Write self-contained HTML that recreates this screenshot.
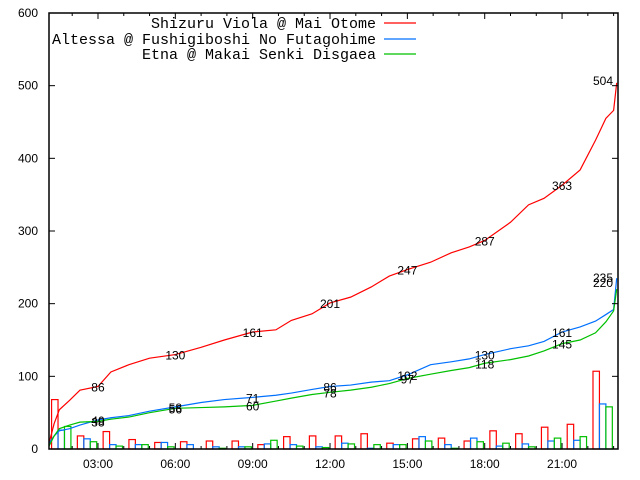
<!DOCTYPE html>
<html><head><meta charset="utf-8"><style>
body{margin:0;background:#fff}
svg{display:block}
text{font-family:"Liberation Sans",sans-serif;font-size:12px;fill:#000}
.leg{font-family:"Liberation Mono",monospace;font-size:15px}
</style></head><body>
<svg id="chart" width="640" height="480" viewBox="0 0 640 480"></svg>
<script>
const seriesNames=["Shizuru Viola @ Mai Otome","Altessa @ Fushigiboshi No Futagohime","Etna @ Makai Senki Disgaea"];
const colors=["#ff0000","#0070ff","#00c000"];
const yTicks=[0,100,200,300,400,500,600];
const xTickHours=[3,6,9,12,15,18,21];
const xTickLabels=["03:00","06:00","09:00","12:00","15:00","18:00","21:00"];
const barHours=[1,2,3,4,5,6,7,8,9,10,11,12,13,14,15,16,17,18,19,20,21,22];
const barsRed=[68,18,24,13,9,10,11,11,6,17,18,18,21,8,14,15,11,25,21,30,34,107];
const barsBlue=[26,14,6,6,9,6,3,3,7,6,3,8,1,6,17,6,15,4,7,11,12,62];
const barsGreen=[31,10,4,6,3,0,1,3,12,4,2,7,6,6,11,1,10,8,3,15,17,58];
const lineHours=[1.1,1.3,1.5,1.9,2.3,3.0,3.5,4.2,5.0,6.0,7.0,7.9,9.0,9.9,10.5,11.3,12.0,12.8,13.6,14.3,15.0,15.9,16.7,17.4,18.0,19.0,19.7,20.3,21.0,21.7,22.3,22.7,23.0,23.12];
const lineRed=[8,35,54,67,81,86,106,116,125,130,140,150,161,164,177,186,201,209,223,238,247,257,270,278,287,312,336,345,363,384,425,455,466,504];
const lineBlue=[8,18,25,28,33,40,43,46,52,58,64,68,71,74,77,82,86,88,92,94,102,116,120,124,130,138,142,148,161,168,176,185,192,235];
const lineGreen=[4,18,28,33,37,38,41,44,50,56,57,58,60,66,70,75,78,81,85,90,97,103,108,112,118,123,128,135,145,150,160,175,190,220];
const labelHours=[3,6,9,12,15,18,21];
const labelsRed=[86,130,161,201,247,287,363];
const labelsBlue=[40,58,71,86,102,130,161];
const labelsGreen=[38,56,60,78,97,118,145];
const finalVals=[504,235,220];

const L=49,R=618,T=13,B=449,H0=1.1,H1=23.17,YMAX=600;
const X=h=>L+(h-H0)/(H1-H0)*(R-L);
const Y=v=>B-v/YMAX*(B-T);
const svg=document.getElementById('chart');
const NS='http://www.w3.org/2000/svg';
function mk(tag,attrs,parent){const e=document.createElementNS(NS,tag);for(const k in attrs)e.setAttribute(k,attrs[k]);(parent||svg).appendChild(e);return e;}

const barSets=[barsRed,barsBlue,barsGreen];
barSets.forEach((arr,s)=>{
  arr.forEach((v,i)=>{
    const h=barHours[i];
    const x0=X(h+0.2+s*0.25),x1=X(h+0.45+s*0.25);
    const r=mk('rect',{x:x0,y:Y(v),width:x1-x0,height:B-Y(v),fill:'none',stroke:colors[s],'stroke-width':1.2});
    
    
  });
});
const lineSets=[lineRed,lineBlue,lineGreen];
lineSets.forEach((arr,s)=>{
  let d='M'+X(lineHours[0])+','+Y(arr[0]);
  for(let i=1;i<arr.length;i++){d+=' L'+X(lineHours[i])+','+Y(arr[i]);}
  const p=mk('path',{d:d,fill:'none',stroke:colors[s],'stroke-width':1.2});
  
  
});
const labSets=[labelsRed,labelsBlue,labelsGreen];
labSets.forEach((arr,s)=>{
  arr.forEach((v,i)=>{
    const t=mk('text',{x:X(labelHours[i]),y:Y(v)+5,'text-anchor':'middle'});
    t.textContent=v;
    
    
  });
});
finalVals.forEach((v,s)=>{
  const t=mk('text',{x:613,y:Y(v)+(s==0?2:(s==1?4:-2)),'text-anchor':'end'});
  t.textContent=v;
  
  
});
const box=mk('rect',{x:L,y:T,width:R-L,height:B-T,fill:'none',stroke:'#000','stroke-width':1.5});


yTicks.forEach(v=>{
  mk('line',{x1:L,x2:L+6,y1:Y(v),y2:Y(v),stroke:'#000'});
  mk('line',{x1:R-6,x2:R,y1:Y(v),y2:Y(v),stroke:'#000'});
  const t=mk('text',{x:L-11,y:Y(v)+4,'text-anchor':'end'});
  t.textContent=v;
  
  
});
for(let h=2;h<=23;h++){
  const major=h%3==0;const len=major?6:3;
  mk('line',{x1:X(h),x2:X(h),y1:B,y2:B-len,stroke:'#000'});
  mk('line',{x1:X(h),x2:X(h),y1:T,y2:T+len,stroke:'#000'});
}
xTickHours.forEach((h,i)=>{
  const t=mk('text',{x:X(h),y:468,'text-anchor':'middle'});
  t.textContent=xTickLabels[i];
  
  
});
const legY=[23,39,54];
seriesNames.forEach((n,s)=>{
  const t=mk('text',{x:376,y:legY[s]+5,'text-anchor':'end','class':'leg'});
  t.textContent=n;
  
  
  mk('line',{x1:384,x2:416,y1:legY[s],y2:legY[s],stroke:colors[s],'stroke-width':1.2});
});
</script>
</body></html>
